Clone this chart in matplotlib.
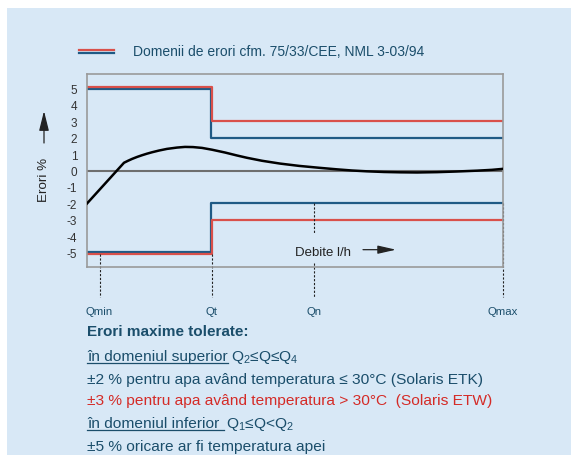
import numpy as np
import matplotlib
matplotlib.use('Agg')
from matplotlib import pyplot as plt
from matplotlib.lines import Line2D
from matplotlib.patches import Rectangle, FancyArrowPatch

# Flow marks on the x axis (arbitrary units, axis runs 0..416)
q_names = ['Qmin', 'Qt', 'Qn', 'Qmax']
q_pos = [12.5, 125, 227, 416]

# Error limits: [below Qt, above Qt]
red_upper = [5.05, 3.0]
blue_upper = [4.95, 2.0]
red_lower = [-5.05, -3.0]
blue_lower = [-4.95, -2.0]

# Typical meter error curve
curve_x = [0, 37, 41, 45, 50, 55, 60, 65, 72, 80, 90, 98, 106, 115, 125, 138, 150, 160,
           175, 193, 212, 233, 250, 265, 280, 297, 313, 330, 350, 370, 390, 405, 416]
curve_y = [-2.0, 0.47, 0.59, 0.7, 0.82, 0.925, 1.02, 1.105, 1.21, 1.31, 1.39, 1.43, 1.42,
           1.37, 1.26, 1.09, 0.91, 0.77, 0.59, 0.42, 0.28, 0.16, 0.07, 0.0, -0.05, -0.09,
           -0.11, -0.12, -0.1, -0.06, -0.01, 0.04, 0.1]

yticks = [-5, -4, -3, -2, -1, 0, 1, 2, 3, 4, 5]

BG = '#d8e8f6'
TEAL = '#1b4e6b'
RED = '#d9504a'
BLUE = '#1f5a85'
RED_TXT = '#d42b27'
W, H = 571, 456

plt.rcParams['font.family'] = ['Liberation Sans', 'DejaVu Sans']
plt.rcParams['mathtext.fontset'] = 'custom'
plt.rcParams['mathtext.rm'] = 'Liberation Sans'


def fx(px):
    return px / W


def fy(py):
    return 1 - py / H


def main():
    fig = plt.figure(figsize=(W / 100, H / 100), dpi=100)
    fig.patch.set_facecolor('white')
    fig.add_artist(Rectangle((fx(7), 0), 1 - fx(7), fy(9), transform=fig.transFigure,
                             facecolor=BG, edgecolor='none', zorder=-10))

    ax = fig.add_axes([fx(87), fy(268), fx(503) - fx(87), fy(75) - fy(268)])
    ax.set_facecolor(BG)
    ax.set_xlim(0, q_pos[-1])
    ax.set_ylim(-5.85, 5.85)
    ax.set_xticks([])
    ax.set_yticks(yticks)
    ax.set_yticklabels([str(t) for t in yticks])
    ax.tick_params(axis='y', length=0, pad=7, labelsize=8.5, labelcolor='#333333')
    for s in ax.spines.values():
        s.set_color('#9a9a9a')
        s.set_linewidth(1.2)

    qt = q_pos[1]
    xmax = q_pos[-1]
    # blue first, red on top
    for up, lo, c, dx in [(blue_upper, blue_lower, BLUE, -0.6), (red_upper, red_lower, RED, 0)]:
        ax.plot([0, qt + dx, qt + dx, xmax], [up[0], up[0], up[1], up[1]], color=c, lw=1.6)
        ax.plot([0, qt + dx, qt + dx, xmax], [lo[0], lo[0], lo[1], lo[1]], color=c, lw=1.6)

    ax.axhline(0, color='#6e6e6e', lw=1.5, zorder=1)
    ax.plot(curve_x, curve_y, color='black', lw=1.8, zorder=3, solid_joinstyle='round')

    # dashed drop lines to the flow labels
    bot = -0.155
    tr = ax.get_xaxis_transform()
    ylo, yhi = ax.get_ylim()

    def to_ax(v):
        return (v - ylo) / (yhi - ylo)

    dash = dict(color='#222222', lw=0.8, ls=(0, (2, 1.5)), clip_on=False, transform=tr)
    ax.plot([q_pos[0]] * 2, [to_ax(red_lower[0]), bot], **dash)
    ax.plot([q_pos[1]] * 2, [to_ax(red_lower[0]), bot], **dash)
    ax.plot([q_pos[2]] * 2, [to_ax(blue_lower[1]), to_ax(-3.85)], **dash)
    ax.plot([q_pos[2]] * 2, [to_ax(-5.6), bot], **dash)
    ax.plot([q_pos[3] - 0.5] * 2, [to_ax(blue_lower[1]), bot], **dash)

    for name, p in zip(q_names, q_pos):
        ax.text(p, -0.228, name, transform=tr, ha='center', va='center',
                fontsize=8.2, color=TEAL)

    ax.text(208, -4.92, 'Debite l/h', ha='left', va='center', fontsize=9.5, color='#222222')
    ax.add_patch(FancyArrowPatch((276, -4.8), (309, -4.8),
                                 arrowstyle='-|>,head_length=11,head_width=2.5',
                                 color='#222222', lw=0.9, shrinkA=0, shrinkB=0))

    # y label with arrow
    fig.text(fx(44), fy(180), 'Erori %', rotation=90, ha='center', va='center',
             fontsize=9.6, color='#222222')
    fig.add_artist(FancyArrowPatch(
        (fx(44), fy(144)), (fx(44), fy(112)), transform=fig.transFigure,
        arrowstyle='-|>,head_length=12,head_width=3', color='#222222', lw=0.9,
        shrinkA=0, shrinkB=0))

    # legend
    fig.add_artist(Line2D([fx(79), fx(114)], [fy(50.7)] * 2, color=RED, lw=1.6))
    fig.add_artist(Line2D([fx(79), fx(114)], [fy(53.5)] * 2, color=BLUE, lw=1.6))
    fig.text(fx(133), fy(52), 'Domenii de erori cfm. 75/33/CEE, NML 3-03/94',
             ha='left', va='center', fontsize=10, color=TEAL)

    # notes under the chart
    fig.text(fx(87), fy(332), 'Erori maxime tolerate:', ha='left', va='center',
             fontsize=11, fontweight='bold', color=TEAL)

    renderer = fig.canvas.get_renderer()
    fs = 11.15

    def underlined(py, head, tail):
        t = fig.text(fx(87), fy(py), head, ha='left', va='baseline', fontsize=fs, color=TEAL)
        bb = t.get_window_extent(renderer)
        fig.add_artist(Line2D([bb.x0 / W, bb.x1 / W], [fy(py + 2.5)] * 2, color=TEAL, lw=0.9))
        fig.text(bb.x1 / W + fx(3), fy(py), tail, ha='left', va='baseline',
                 fontsize=fs, color=TEAL)

    underlined(361, 'în domeniul superior', 'Q$_{2}$≤Q≤Q$_{4}$')
    fig.text(fx(87), fy(384), '±2 % pentru apa având temperatura ≤ 30°C (Solaris ETK)',
             ha='left', va='baseline', fontsize=fs, color=TEAL)
    fig.text(fx(87), fy(405), '±3 % pentru apa având temperatura > 30°C  (Solaris ETW)',
             ha='left', va='baseline', fontsize=fs, color=RED_TXT)
    underlined(428, 'în domeniul inferior ', 'Q$_{1}$≤Q<Q$_{2}$')
    fig.text(fx(87), fy(451), '±5 % oricare ar fi temperatura apei',
             ha='left', va='baseline', fontsize=fs, color=TEAL)

    fig.savefig('out.png', dpi=100, facecolor='white')


if __name__ == "__main__":
    main()
